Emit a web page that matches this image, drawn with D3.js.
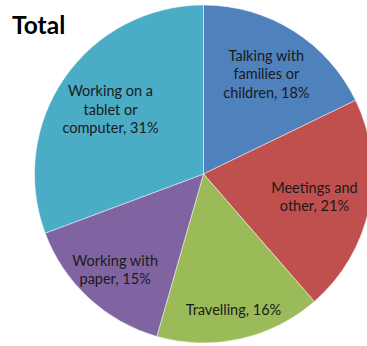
<!DOCTYPE html>
<html><head><meta charset="utf-8">
<script src="https://cdn.jsdelivr.net/npm/d3@7"></script>
<style>html,body{margin:0;padding:0;background:#fff;}svg{display:block;}</style>
</head><body>
<script>
const categories = ["Talking with families or children", "Meetings and other", "Travelling", "Working with paper", "Working on a tablet or computer"];
const values = [18, 21, 16, 15, 31];
const labelLines = [
  ["Talking with", "families or", "children, 18%"],
  ["Meetings and", "other, 21%"],
  ["Travelling, 16%"],
  ["Working with", "paper, 15%"],
  ["Working on a", "tablet or", "computer, 31%"]
];
const colors = ["#4F81BD", "#C0504D", "#9BBB59", "#8064A2", "#4BACC6"];
const title = "Total";

const W = 367, H = 346;
const cx = 203.5, cy = 174, R = 169;
const labelRadiusFactor = [0.70, 0.67, 0.82, 0.77, 0.67];
const lineH = 18.5;

const svg = d3.select("body").append("svg").attr("width", W).attr("height", H);
const g = svg.append("g").attr("transform", `translate(${cx},${cy})`);

const pie = d3.pie().sort(null).value(d => d)(values);
const arc = d3.arc().innerRadius(0).outerRadius(R);

g.selectAll("path.slice").data(pie).join("path")
  .attr("class", "slice")
  .attr("d", arc)
  .attr("fill", (d, i) => colors[i])
  .attr("stroke", "#ffffff")
  .attr("stroke-opacity", 0.6)
  .attr("stroke-width", 0.8);

g.selectAll("text.lbl").data(pie).join("text")
  .attr("class", "lbl")
  .attr("font-family", "Lato, 'Open Sans', sans-serif")
  .attr("font-size", 14.5)
  .attr("fill", "#1a1a1a")
  .attr("text-anchor", "middle")
  .each(function(d, i) {
    const a = (d.startAngle + d.endAngle) / 2;
    const r = R * labelRadiusFactor[i];
    const x = r * Math.sin(a), y = -r * Math.cos(a);
    const lines = labelLines[i];
    const t = d3.select(this);
    lines.forEach((ln, k) => {
      t.append("tspan").attr("x", x)
        .attr("y", y + (k - (lines.length - 1) / 2) * lineH)
        .attr("dominant-baseline", "central")
        .text(ln);
    });
  });

svg.append("text").attr("x", 12).attr("y", 33.5)
  .attr("font-family", "Lato, 'Open Sans', sans-serif")
  .attr("font-weight", "bold").attr("font-size", 24.5)
  .attr("fill", "#000").text(title);
</script>
</body></html>
